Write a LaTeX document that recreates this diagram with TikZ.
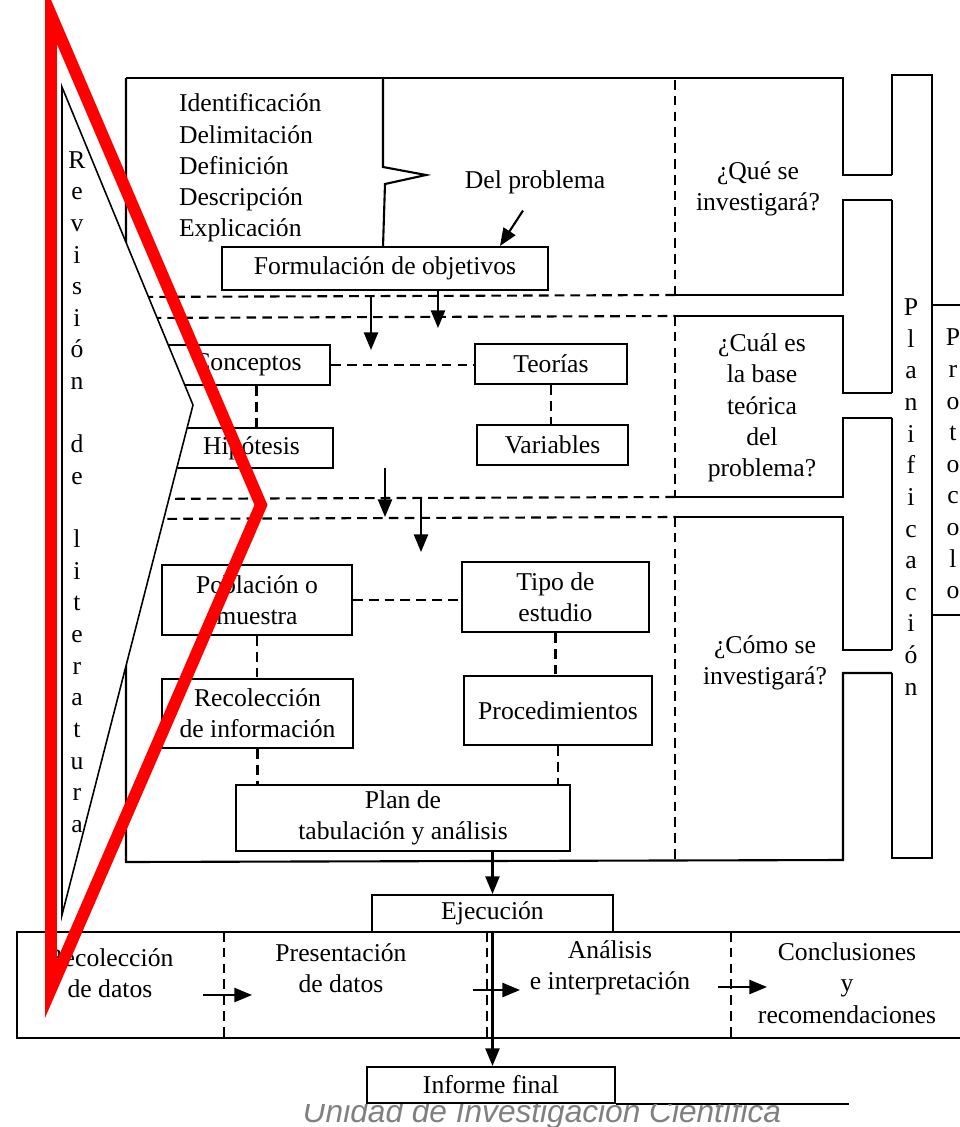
\documentclass[tikz,border=0pt]{standalone}
\usepackage{fontspec}
\setmainfont{Liberation Serif}
\newfontfamily\wmfont{Liberation Sans}
\usetikzlibrary{arrows.meta,calc}
\definecolor{markred}{RGB}{255,0,0}
\definecolor{wmgray}{RGB}{128,128,128}

\begin{document}
\begin{tikzpicture}[
    x=0.02cm, y=-0.02cm,
    line width=1.2pt,
    font=\fontsize{14.6}{17.8}\selectfont,
    box/.style={rectangle, draw, align=center, inner sep=0pt},
    lbl/.style={align=center, inner sep=0pt},
    vtext/.style={align=center, inner sep=0pt, font=\fontsize{14.6}{18}\selectfont},
    dsh/.style={dash pattern=on 5.5pt off 3.5pt},
    arrow/.style={-{Triangle[length=10pt, width=8pt]}}
]
\useasboundingbox (0,0) rectangle (960,1127);

% marco de las tres etapas
\draw (126,78) -- (843,78) -- (843,175) -- (892,175);
\draw (892,200) -- (843,200) -- (843,295) -- (675,295);
\draw[dsh] (675,295) -- (120,297);
\draw[dsh] (120,318) -- (675,316);
\draw (675,316) -- (843,316) -- (843,393) -- (892,393);
\draw (892,418) -- (843,418) -- (843,497) -- (675,497);
\draw[dsh] (675,497) -- (120,499);
\draw[dsh] (120,519) -- (675,517);
\draw (675,517) -- (843,517) -- (843,650) -- (892,650);
\draw (892,673) -- (843,673) -- (843,860) -- (126,862) -- (126,78);
\draw[dsh] (675,80) -- (675,295);
\draw[dsh] (675,316) -- (675,497);
\draw[dsh] (675,517) -- (675,860);

\draw (892,175) -- (892,75) -- (932,75) -- (932,858) -- (892,858) -- (892,673);
\draw (892,650) -- (892,418);
\draw (892,393) -- (892,200);
\draw (975,305) -- (932,305);
\draw (932,615) -- (975,615);

\node[vtext] (planif) at (911,497) {P\\l\\a\\n\\i\\f\\i\\c\\a\\c\\i\\ó\\n};
\node[vtext] (prot) at (953,464) {P\\r\\o\\t\\o\\c\\o\\l\\o};

\node[lbl] (que) at (758,189) {¿Qué se\\investigará?};
\node[lbl] (cual) at (762,408) {¿Cuál es\\la base\\teórica\\del\\problema?};
\node[lbl] (como) at (765,663) {¿Cómo se\\investigará?};

% problema
\draw (383,78) -- (383,167) -- (426,175) -- (385,184) -- (383,247);
\node[lbl, anchor=west, align=left] (lista) at (178,168) {Identificación\\Delimitación\\Definición\\Descripción\\Explicación};
\node (delp) at (535,182) {Del problema};
\node[box, minimum width=6.52cm, minimum height=0.86cm] (obj) at (385,268.5) {Formulación de objetivos};
\draw[arrow] ([xshift=-0.24cm, yshift=-0.2cm]delp.south) -- ([xshift=2.3cm]obj.north);

\coordinate (a2) at (371,297);
\coordinate (a3) at (385,468);
\coordinate (a4) at (421,499);
\draw[arrow] ([xshift=1.06cm]obj.south) -- ++(0,37);
\draw[arrow] (a2) -- ++(0,53);
\draw[arrow] (a3) -- ++(0,49);
\draw[arrow] (a4) -- ++(0,53);

% marco teorico
\node[box, minimum width=3.3cm, minimum height=0.8cm] (conc) at (247.5,365) {Conceptos};
\node[box, minimum width=3.04cm, minimum height=0.8cm] (teo) at (551,364) {Teorías};
\node[box, minimum width=3.26cm, minimum height=0.8cm] (hip) at (251.5,448) {Hipótesis};
\node[box, minimum width=3.02cm, minimum height=0.8cm] (var) at (552.5,445) {Variables};
\draw[dsh] (conc.east) -- (conc.east -| teo.west);
\draw[dsh] ([xshift=0.18cm]conc.south) -- ([xshift=0.18cm]conc.south |- hip.north);
\draw[dsh] (teo.south) -- (teo.south |- var.north);

% metodologia
\node[box, minimum width=3.8cm, minimum height=1.4cm] (pob) at (257,600) {Población o\\muestra};
\node[box, minimum width=3.74cm, minimum height=1.4cm] (tipo) at (555.5,597) {Tipo de\\estudio};
\node[box, minimum width=3.82cm, minimum height=1.38cm] (rec) at (257.5,713.5) {Recolección\\de información};
\node[box, minimum width=3.76cm, minimum height=1.38cm] (proc) at (558,710.5) {Procedimientos};
\node[box, minimum width=6.68cm, minimum height=1.32cm] (plan) at (403,818) {Plan de\\tabulación y análisis};
\draw[dsh] (pob.east) -- (pob.east -| tipo.west);
\draw[dsh] (pob.south) -- (pob.south |- rec.north);
\draw[dsh] (rec.south) -- (rec.south |- plan.north);
\draw[dsh] (tipo.south) -- (tipo.south |- proc.north);
\draw[dsh] (proc.south) -- (proc.south |- plan.north);

% ejecucion
\node[box, minimum width=4.82cm, minimum height=0.74cm] (eje) at (492.5,913.5) {Ejecución};
\draw[arrow] (eje.north |- plan.south) -- (eje.north);
\draw (17,932) rectangle (975,1038);
\draw[dsh] (224,932) -- (224,1038);
\draw[dsh] (487,932) -- (487,1038);
\draw[dsh] (731,932) -- (731,1038);
\node[lbl] (rd) at (110,973) {Recolección\\de datos};
\node[lbl] (pd) at (341,968) {Presentación\\de datos};
\node[lbl] (ai) at (610,968) {Análisis\\e interpretación};
\node[lbl] (cr) at (847,983) {Conclusiones\\y\\recomendaciones};
\coordinate (b1) at (203,995);
\coordinate (b2) at (473,990);
\coordinate (b3) at (718,987);
\draw[arrow] (b1) -- ++(49,0);
\draw[arrow] (b2) -- ++(47,0);
\draw[arrow] (b3) -- ++(49,0);

\node[box, minimum width=4.96cm, minimum height=0.72cm] (inf) at (491,1085) {Informe final};
\draw[arrow] (eje.south) -- (eje.south |- inf.north);
\draw (inf.south east) -- ([xshift=4.66cm]inf.south east);

\begin{scope}
\clip (0,1104) rectangle (960,1127);
\node[font=\wmfont\itshape\fontsize{18}{20}\selectfont, text=wmgray, anchor=base] (wm) at (542,1122) {Unidad de Investigación Científica};
\end{scope}

% revision de literatura
\draw[fill=white, line width=0.9pt] (62,87) -- (193,405) -- (62,915) -- cycle;
\node[vtext] (revlit) at (77,492) {R\\e\\v\\i\\s\\i\\ó\\n\\[18pt]d\\e\\[18pt]l\\i\\t\\e\\r\\a\\t\\u\\r\\a};

\draw[markred, line width=0.24cm, line join=miter] (51,15) -- (261,505) -- (51,989) -- cycle;
\end{tikzpicture}
\end{document}
